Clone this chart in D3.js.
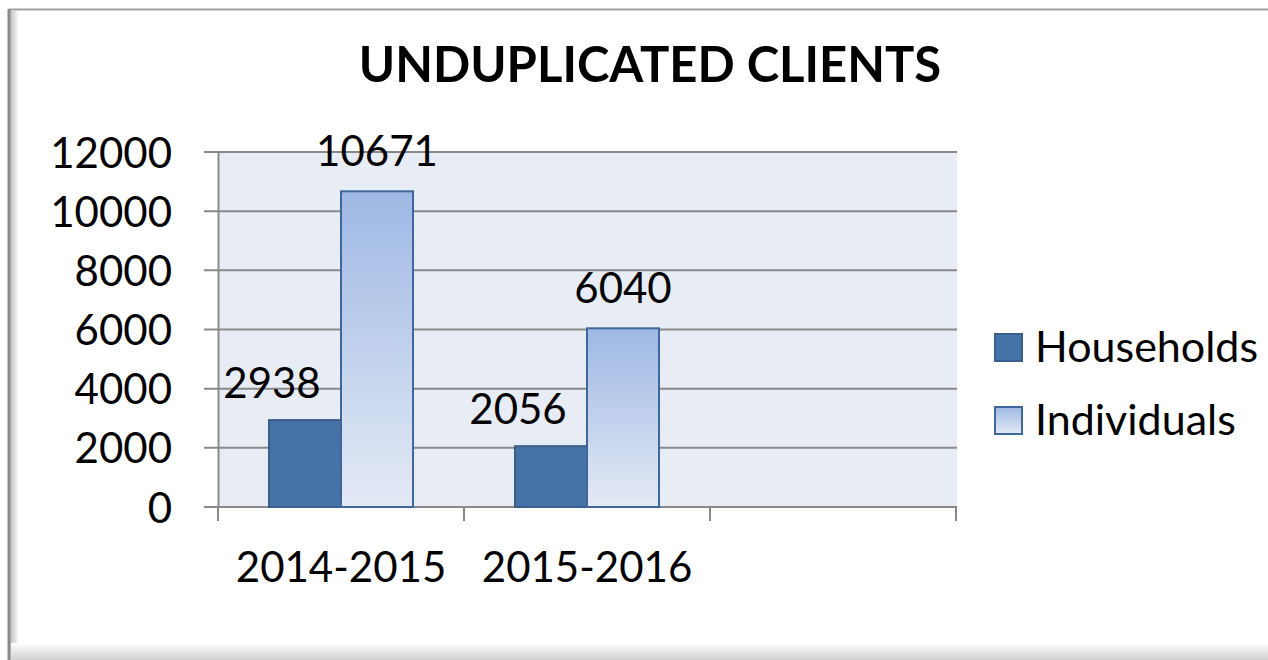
<!DOCTYPE html>
<html>
<head>
<meta charset="utf-8">
<script src="https://cdn.jsdelivr.net/npm/d3@7"></script>
<style>
  body { margin: 0; background: #fff; }
  text { font-family: Lato, "Open Sans", sans-serif; fill: #000; }
</style>
</head>
<body>
<div id="chart"></div>
<script>
var width = 1268;
var height = 660;

// data
var categories = ["2014-2015", "2015-2016", ""];
var seriesNames = ["Households", "Individuals"];
var households = [2938, 2056, null];
var individuals = [10671, 6040, null];
var yTicks = [0, 2000, 4000, 6000, 8000, 10000, 12000];

var values = { "Households": households, "Individuals": individuals };

var svg = d3.select("#chart").append("svg")
  .attr("width", width)
  .attr("height", height);

var defs = svg.append("defs");

// gradient for individuals bars
var g1 = defs.append("linearGradient").attr("id", "indiv").attr("x1", 0).attr("y1", 0).attr("x2", 0).attr("y2", 1);
g1.append("stop").attr("offset", "0%").attr("stop-color", "#9EB8E4");
g1.append("stop").attr("offset", "100%").attr("stop-color", "#E4EAF5");

// frame shadows
var gl = defs.append("linearGradient").attr("id", "shadowL").attr("x1", 0).attr("y1", 0).attr("x2", 1).attr("y2", 0);
gl.append("stop").attr("offset", "0%").attr("stop-color", "#c4c4c4");
gl.append("stop").attr("offset", "100%").attr("stop-color", "#ffffff");
var gb = defs.append("linearGradient").attr("id", "shadowB").attr("x1", 0).attr("y1", 0).attr("x2", 0).attr("y2", 1);
gb.append("stop").attr("offset", "0%").attr("stop-color", "#ffffff");
gb.append("stop").attr("offset", "100%").attr("stop-color", "#d0d0d0");

// outer frame
svg.append("rect").attr("x", 9.5).attr("y", 9.5).attr("width", width).attr("height", height)
  .attr("fill", "#fff").attr("stroke", "#a0a0a0").attr("stroke-width", 2);
svg.append("rect").attr("x", 11).attr("y", 11).attr("width", 8).attr("height", height - 11)
  .attr("fill", "url(#shadowL)");
svg.append("rect").attr("x", 11).attr("y", 643).attr("width", width).attr("height", 17)
  .attr("fill", "url(#shadowB)");
svg.append("line").attr("x1", 9).attr("x2", 9).attr("y1", 9).attr("y2", height)
  .attr("stroke", "#8a8a8a").attr("stroke-width", 3);

// scales
var plot = { left: 218, right: 956, top: 152, bottom: 507 };

var x = d3.scaleBand().domain(d3.range(categories.length))
  .range([plot.left, plot.right]).paddingInner(0).paddingOuter(0);
var xs = d3.scaleBand().domain(seriesNames)
  .range([0, x.bandwidth()]).paddingInner(0).paddingOuter(0.708);
var y = d3.scaleLinear().domain([0, 12000]).range([plot.bottom, plot.top]);

// plot background
svg.append("rect")
  .attr("x", plot.left).attr("y", plot.top)
  .attr("width", plot.right - plot.left + 1).attr("height", plot.bottom - plot.top)
  .attr("fill", "#E8EDF5");

// grid lines
svg.append("g").selectAll("line").data(yTicks).join("line")
  .attr("x1", plot.left - 14).attr("x2", plot.right + 1)
  .attr("y1", d => y(d)).attr("y2", d => y(d))
  .attr("stroke", "#898989").attr("stroke-width", 2);

// y axis
var yAxis = d3.axisLeft(y).tickValues(yTicks).tickSize(0).tickPadding(46).tickFormat(d3.format("d"));
var yg = svg.append("g").attr("transform", "translate(" + plot.left + ",0)").call(yAxis);
yg.select(".domain").attr("stroke", "#898989").attr("stroke-width", 2);
yg.selectAll("text").style("font-size", "42px").attr("dy", "0.36em").attr("fill", "#000");

// x axis
var xAxis = d3.axisBottom(x).tickSize(0).tickPadding(0).tickFormat(i => categories[i]);
var xg = svg.append("g").attr("transform", "translate(0," + plot.bottom + ")").call(xAxis);
xg.select(".domain").remove();
xg.selectAll("text").style("font-size", "42px").attr("y", 75).attr("dy", 0).attr("fill", "#000");
xg.selectAll(".tickmark").data(d3.range(categories.length + 1)).join("line")
  .attr("class", "tickmark")
  .attr("x1", d => plot.left + d * x.step()).attr("x2", d => plot.left + d * x.step())
  .attr("y1", 0).attr("y2", 14)
  .attr("stroke", "#898989").attr("stroke-width", 2);

// bars
var barData = [];
seriesNames.forEach(function(s) {
  values[s].forEach(function(v, i) {
    if (v != null) barData.push({ series: s, i: i, value: v });
  });
});

svg.append("g").selectAll("rect").data(barData).join("rect")
  .attr("x", d => x(d.i) + xs(d.series))
  .attr("y", d => y(d.value))
  .attr("width", xs.bandwidth())
  .attr("height", d => y(0) - y(d.value))
  .attr("fill", d => d.series === "Households" ? "#4572A7" : "url(#indiv)")
  .attr("stroke", d => d.series === "Households" ? "#3A5F8B" : "#3F679B")
  .attr("stroke-width", 2);

// data labels
var labelNudge = { "Households": { dx: -33, dy: -22 }, "Individuals": { dx: 0, dy: -25 } };
svg.append("g").selectAll("text").data(barData).join("text")
  .attr("x", d => x(d.i) + xs(d.series) + xs.bandwidth() / 2 + labelNudge[d.series].dx)
  .attr("y", d => y(d.value) + labelNudge[d.series].dy)
  .attr("text-anchor", "middle")
  .style("font-size", "42px")
  .text(d => d.value);

// title
svg.append("text")
  .attr("x", 650).attr("y", 82)
  .attr("text-anchor", "middle")
  .style("font-size", "49px").style("font-weight", "bold")
  .text("UNDUPLICATED CLIENTS");

// legend
var legend = svg.append("g").attr("transform", "translate(995,333)");
var li = legend.selectAll("g").data(seriesNames).join("g")
  .attr("transform", (d, i) => "translate(0," + i * 73 + ")");
li.append("rect").attr("x", 0).attr("y", 1).attr("width", 27).attr("height", 27)
  .attr("fill", d => d === "Households" ? "#4572A7" : "url(#indiv)")
  .attr("stroke", d => d === "Households" ? "#3A5F8B" : "#3F679B")
  .attr("stroke-width", 2);
li.append("text").attr("x", 40).attr("y", 29)
  .style("font-size", "43px")
  .text(d => d);
</script>
</body>
</html>
